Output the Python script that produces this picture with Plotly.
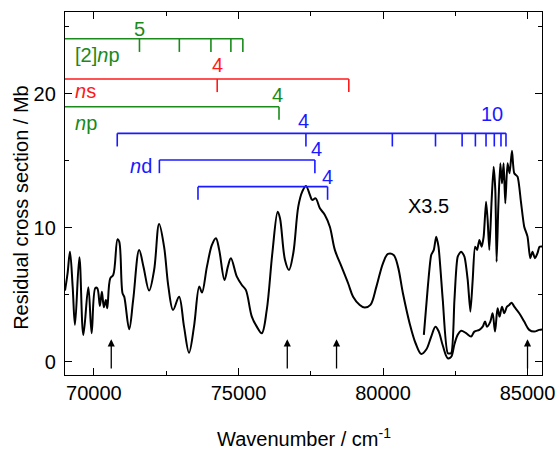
import plotly.graph_objects as go

# ---- data ----
main_x = [69000, 69090, 69172, 69265, 69345, 69497, 69634, 69807, 69921, 70050,
          70117, 70207, 70276, 70345, 70414, 70462, 70565, 70669, 70817, 70876,
          70990, 71048, 71220, 71358, 71565, 71714, 71910, 72083, 72255, 72427,
          72576, 72738, 72945, 73117, 73290, 73462, 73645, 73738, 73910, 74083,
          74221, 74334, 74517, 74634, 74738, 74945, 75117, 75255, 75462, 75634,
          75807, 75979, 76172, 76358, 76437, 76610, 76748, 76896, 77069, 77206,
          77334, 77472, 77551, 77668, 77817, 77989, 78161, 78334, 78565, 78793,
          78965, 79196, 79368, 79565, 79772, 79999, 80172, 80368, 80517, 80689,
          80920, 81127, 81323, 81496, 81668, 81816, 81930, 82068, 82241, 82357,
          82471, 82585, 82703, 82875, 83048, 83161, 83334, 83448, 83530, 83599,
          83713, 83792, 83875, 83964, 84033, 84116, 84195, 84288, 84368, 84447,
          84540, 84713, 84885, 85057, 85230, 85403, 85500]
main_y = [5.3, 6.6, 8.2, 5.6, 2.74, 7.79, 1.99, 5.55, 2.12, 5.5,
          5.48, 4.16, 5.22, 4.06, 4.6, 3.98, 6.22, 6.47, 9.13, 8.96,
          5.1, 4.85, 2.42, 4.6, 8.34, 7.09, 5.3, 6.84, 10.28, 8.58,
          5.6, 3.86, 4.85, 2.61, 0.67, 2.61, 5.6, 5.15, 7.09, 8.71,
          9.21, 8.34, 6.1, 7.09, 7.72, 6.34, 5.72, 5.35, 3.36, 2.61,
          2.12, 3.86, 8.09, 11.19, 10.7, 7.59, 6.84, 8.09, 11.57, 12.69,
          13.11, 12.44, 12.07, 12.19, 11.45, 10.95, 10.07, 8.34, 7.09, 5.85,
          4.85, 4.23, 4.03, 4.23, 5.6, 7.34, 8.04, 7.96, 7.09, 5.1,
          2.87, 1.37, 0.57, 0.9, 1.87, 2.61, 2.24, 1.2, 0.25, 0.35,
          1.3, 2.0, 2.31, 2.12, 1.87, 2.24, 2.37, 2.61, 2.99, 2.61,
          2.99, 3.61, 2.24, 3.98, 3.36, 4.1, 3.61, 4.1, 4.23, 4.4,
          4.1, 3.61, 2.99, 2.37, 2.24, 2.37, 2.4]

scaled_x = [81413, 81551, 81668, 81758, 81840, 81920, 82068, 82241, 82357, 82471,
            82585, 82703, 82816, 82930, 83023, 83103, 83185, 83254, 83334, 83413,
            83482, 83565, 83620, 83678, 83758, 83827, 83885, 83930, 83989, 84058,
            84116, 84172, 84230, 84309, 84378, 84461, 84540, 84654, 84771, 84885,
            84999, 85092, 85172, 85254, 85344, 85413, 85500]
scaled_y = [1.99, 5.6, 7.96, 8.34, 9.33, 8.58, 4.6, 0.63, 0.63, 4.6,
            7.84, 8.21, 7.84, 6.1, 3.73, 6.1, 8.58, 8.34, 9.08, 8.58,
            9.33, 11.94, 10.57, 8.34, 12.07, 14.55, 12.81, 7.46, 11.57, 14.8,
            13.31, 14.8, 11.82, 14.8, 14.06, 15.75, 14.06, 13.81, 11.94, 10.07,
            9.33, 7.72, 8.21, 7.72, 8.09, 8.58, 8.6]

# series combs: name, colour, line level, left end of line, tick positions
comb_names = ["[2]np", "ns", "np", "nd1", "nd2", "nd3"]
comb_colors = ["#1a8a1a", "#ff1a1a", "#1a8a1a", "#1a1aff", "#1a1aff", "#1a1aff"]
comb_levels = [24.1, 21.1, 19.03, 17.04, 15.05, 13.06]
comb_starts = [69000, 69000, 69000, 70807, 72265, 73600]
comb_ticks = [
    [71576, 72955, 74048, 74738, 75152],
    [74265, 78817],
    [76403],
    [70807, 77334, 80323, 81816, 82737, 83196, 83564, 83850, 84081, 84254],
    [72265, 77644],
    [73600, 78083],
]
comb_drop = 0.98

# text labels: text, x, y, colour, anchor
label_text = ["5", "[2]<i>n</i>p", "4", "<i>n</i>s", "4", "<i>n</i>p", "4", "10",
              "4", "<i>n</i>d", "4", "X3.5"]
label_x = [71576, 69265, 74265, 69276, 76335, 69276, 77258, 83775,
           77713, 71172, 78093, 81582]
label_y = [24.85, 22.9, 22.18, 20.2, 19.87, 17.8, 18.0, 18.5,
           15.86, 14.63, 13.75, 11.63]
label_color = ["#1a8a1a", "#1a8a1a", "#ff1a1a", "#ff1a1a", "#1a8a1a", "#1a8a1a",
               "#1a1aff", "#1a1aff", "#1a1aff", "#1a1aff", "#1a1aff", "black"]
label_anchor = ["center", "left", "center", "left", "center", "left", "center",
                "center", "center", "left", "center", "center"]

arrow_x = [70600, 76689, 78393, 84999]
arrow_tip = 1.67
arrow_tail = -0.62

x_title = "Wavenumber / cm<sup>-1</sup>"
y_title = "Residual cross section / Mb"

FONT = "Arial, Liberation Sans, sans-serif"
FS = 20

fig = go.Figure()

fig.add_trace(go.Scatter(x=main_x, y=main_y, mode="lines",
                         line=dict(color="black", width=2, shape="spline", smoothing=1.0),
                         hoverinfo="skip"))
fig.add_trace(go.Scatter(x=scaled_x, y=scaled_y, mode="lines",
                         line=dict(color="black", width=2, shape="spline", smoothing=0.6),
                         hoverinfo="skip"))

for name, col, lev, start, ticks in zip(comb_names, comb_colors, comb_levels,
                                        comb_starts, comb_ticks):
    xs = [start, max(ticks), None]
    ys = [lev, lev, None]
    for t in ticks:
        xs += [t, t, None]
        ys += [lev, lev - comb_drop, None]
    fig.add_trace(go.Scatter(x=xs, y=ys, mode="lines",
                             line=dict(color=col, width=1.6),
                             hoverinfo="skip", cliponaxis=True))

for t, x, y, c, a in zip(label_text, label_x, label_y, label_color, label_anchor):
    fig.add_annotation(x=x, y=y, text=t, showarrow=False, xanchor=a, yanchor="middle",
                       font=dict(family=FONT, size=FS, color=c))

for ax in arrow_x:
    fig.add_annotation(x=ax, y=arrow_tip, ax=ax, ay=arrow_tail, axref="x", ayref="y",
                       xref="x", yref="y", text="", showarrow=True,
                       arrowhead=2, arrowsize=1.1, arrowwidth=1.3, arrowcolor="black")

# axis titles as paper-positioned annotations
fig.add_annotation(x=0.5, y=-0.172, xref="paper", yref="paper", text=x_title,
                   showarrow=False, xanchor="center", yanchor="middle",
                   font=dict(family=FONT, size=FS, color="black"))
fig.add_annotation(x=-0.094, y=0.461, xref="paper", yref="paper", text=y_title,
                   showarrow=False, xanchor="center", yanchor="middle", textangle=-90,
                   font=dict(family=FONT, size=FS, color="black"))

axis_common = dict(showline=True, linecolor="black", linewidth=1.3, mirror="allticks",
                   ticks="inside", ticklen=7, tickwidth=1.2, tickcolor="black",
                   showgrid=False, zeroline=False, automargin=False,
                   tickfont=dict(family=FONT, size=FS, color="black"))

fig.update_xaxes(range=[69000, 85500], dtick=5000, tick0=70000,
                 minor=dict(ticks="inside", ticklen=3.5, dtick=2500, tick0=70000,
                            tickcolor="black", tickwidth=1.2, showgrid=False),
                 ticklabelstandoff=0,
                 tickformat="d", **axis_common)
fig.update_yaxes(range=[-1, 26.1], dtick=10, tick0=0,
                 minor=dict(ticks="inside", ticklen=3.5, dtick=5, tick0=0,
                            tickcolor="black", tickwidth=1.2, showgrid=False),
                 ticklabelstandoff=4,
                 **axis_common)

fig.update_layout(width=560, height=450, margin=dict(l=65, r=18, t=12, b=75),
                  plot_bgcolor="white", paper_bgcolor="white", showlegend=False)

fig.write_html("out.html")
